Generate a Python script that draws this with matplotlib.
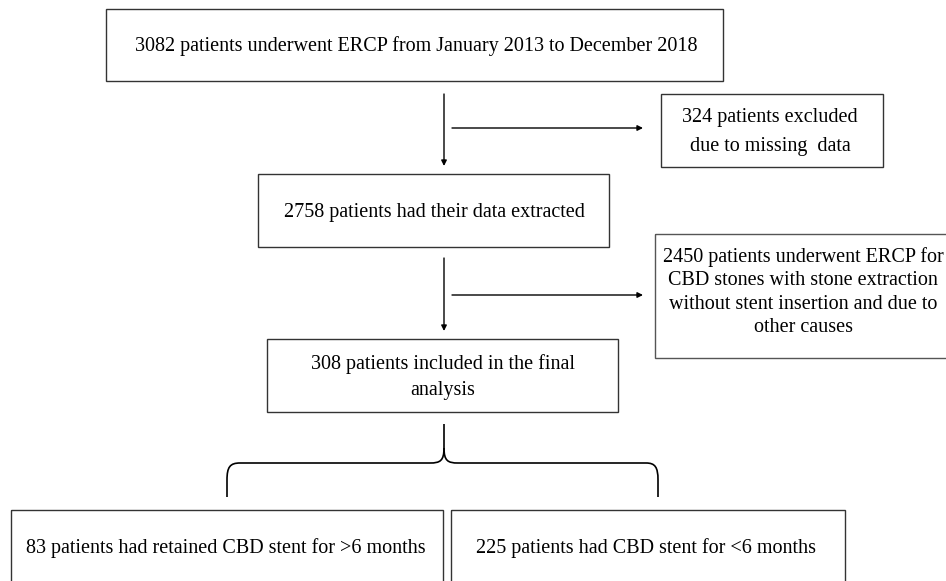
import matplotlib
matplotlib.use("Agg")
import matplotlib.pyplot as plt
from matplotlib.patches import Rectangle, PathPatch
from matplotlib.path import Path

plt.rcParams['font.family'] = ['Liberation Serif', 'DejaVu Serif']

# ---- content ----
box_texts = [
    "3082 patients underwent ERCP from January 2013 to December 2018",
    "324 patients excluded\ndue to missing  data",
    "2758 patients had their data extracted",
    "2450 patients underwent ERCP for\nCBD stones with stone extraction\nwithout stent insertion and due to\nother causes",
    "308 patients included in the final\nanalysis",
    "83 patients had retained CBD stent for >6 months",
    "225 patients had CBD stent for <6 months",
]

# ---- layout (pixels, y downward) ----
# (x0, y0, x1, y1, text_x, text_y, linespacing, edgecolor)
boxes = [
    (106, 9, 723, 81, 416, 46, 1.2, '#333333'),
    (661, 94, 883, 167, 770, 132, 1.71, '#333333'),
    (258, 174, 609, 247, 434, 212, 1.2, '#333333'),
    (655, 234, 960, 358, 803, 292, 1.30, '#555555'),
    (267, 339, 618, 412, 443, 377, 1.50, '#333333'),
    (11, 510, 443, 600, 226, 548, 1.2, '#333333'),
    (451, 510, 845, 600, 646, 548, 1.2, '#333333'),
]

W, H = 946, 581
fig = plt.figure(figsize=(W / 100, H / 100), dpi=100)
ax = fig.add_axes([0, 0, 1, 1])
ax.set_xlim(0, W)
ax.set_ylim(H, 0)
ax.axis('off')

for (x0, y0, x1, y1, tx, ty, ls, ec), txt in zip(boxes, box_texts):
    ax.add_patch(Rectangle((x0, y0), x1 - x0, y1 - y0, fill=False,
                           edgecolor=ec, linewidth=1.0))
    ax.text(tx, ty, txt, ha='center', va='center', fontsize=14.5,
            linespacing=ls, color='black', clip_on=False)

def arrow(x0, y0, x1, y1):
    ax.annotate('', xy=(x1, y1), xytext=(x0, y0),
                arrowprops=dict(arrowstyle='-|>', color='black', lw=1.0,
                                mutation_scale=8, shrinkA=0, shrinkB=0))

# vertical arrows
arrow(444, 94, 444, 166)
arrow(444, 258, 444, 331)
# horizontal arrows
arrow(452, 128, 643, 128)
arrow(452, 295, 643, 295)

# curly brace
verts = [(444, 424), (444, 448),
         (444, 461), (440, 463), (430, 463),
         (240, 463),
         (230, 463), (227, 467), (227, 480),
         (227, 497)]
codes = [Path.MOVETO, Path.LINETO,
         Path.CURVE4, Path.CURVE4, Path.CURVE4,
         Path.LINETO,
         Path.CURVE4, Path.CURVE4, Path.CURVE4,
         Path.LINETO]
ax.add_patch(PathPatch(Path(verts, codes), fill=False, edgecolor='black', lw=1.2))
verts_r = [(444, 448),
           (444, 461), (448, 463), (458, 463),
           (646, 463),
           (655, 463), (658, 467), (658, 480),
           (658, 497)]
codes_r = [Path.MOVETO,
           Path.CURVE4, Path.CURVE4, Path.CURVE4,
           Path.LINETO,
           Path.CURVE4, Path.CURVE4, Path.CURVE4,
           Path.LINETO]
ax.add_patch(PathPatch(Path(verts_r, codes_r), fill=False, edgecolor='black', lw=1.2))

fig.savefig('out.png', dpi=100, facecolor='white')
